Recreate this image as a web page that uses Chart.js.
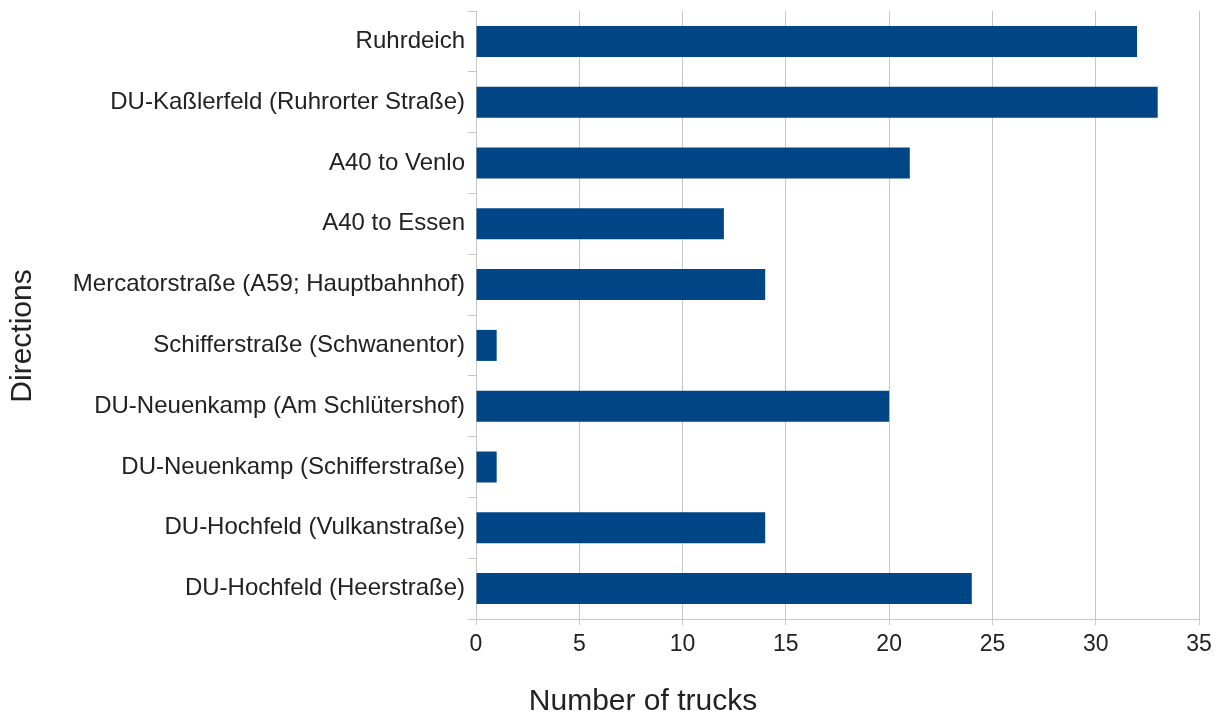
<!DOCTYPE html>
<html><head><meta charset="utf-8">
<script src="https://cdn.jsdelivr.net/npm/chart.js@4"></script>
<style>html,body{margin:0;padding:0;background:#fff}#wrap{width:1227px;height:715px}</style>
</head><body><div id="wrap"><canvas id="c" width="1227" height="715"></canvas></div>
<script>
const categories = [
  "Ruhrdeich",
  "DU-Kaßlerfeld (Ruhrorter Straße)",
  "A40 to Venlo",
  "A40 to Essen",
  "Mercatorstraße (A59; Hauptbahnhof)",
  "Schifferstraße (Schwanentor)",
  "DU-Neuenkamp (Am Schlütershof)",
  "DU-Neuenkamp (Schifferstraße)",
  "DU-Hochfeld (Vulkanstraße)",
  "DU-Hochfeld (Heerstraße)"
];
const trucks = [32, 33, 21, 12, 14, 1, 20, 1, 14, 24];
const xTicks = [0, 5, 10, 15, 20, 25, 30, 35];
const xTitle = "Number of trucks";
const yTitle = "Directions";

const FONT = "'Liberation Sans', Arial, sans-serif";
const titles = {
  id: 'titles',
  afterDraw(chart) {
    const ctx = chart.ctx;
    ctx.save();
    ctx.fillStyle = '#222';
    ctx.font = "30px " + FONT;
    ctx.textAlign = 'center';
    ctx.textBaseline = 'middle';
    ctx.fillText(xTitle, 643, 702);
    ctx.translate(23, 336);
    ctx.rotate(-Math.PI / 2);
    ctx.fillText(yTitle, 0, 0);
    ctx.restore();
  }
};

new Chart(document.getElementById('c'), {
  type: 'bar',
  data: {
    labels: categories,
    datasets: [{
      data: trucks,
      backgroundColor: '#004586',
      borderWidth: 0,
      barPercentage: 0.51,
      categoryPercentage: 1
    }]
  },
  options: {
    indexAxis: 'y',
    responsive: false,
    animation: false,
    devicePixelRatio: 1,
    layout: { padding: { top: 11, right: 28, bottom: 0, left: 0 } },
    plugins: { legend: { display: false }, tooltip: { enabled: false } },
    scales: {
      x: {
        min: 0, max: 35,
        afterBuildTicks(axis) { axis.ticks = xTicks.map(v => ({ value: v })); },
        afterFit(axis) { axis.height = 96; },
        grid: { color: '#c8c8c8', lineWidth: 1, tickLength: 6, drawTicks: true },
        border: { color: '#c8c8c8' },
        ticks: { color: '#222', font: { family: FONT, size: 23 }, padding: 6 }
      },
      y: {
        afterFit(axis) { axis.width = 476; axis.paddingTop = 0; axis.paddingBottom = 0; },
        grid: { offset: true, drawOnChartArea: false, color: '#c8c8c8', tickLength: 8 },
        border: { color: '#c8c8c8' },
        ticks: { color: '#222', font: { family: FONT, size: 24 }, padding: 3 }
      }
    }
  },
  plugins: [titles]
});
</script></body></html>
